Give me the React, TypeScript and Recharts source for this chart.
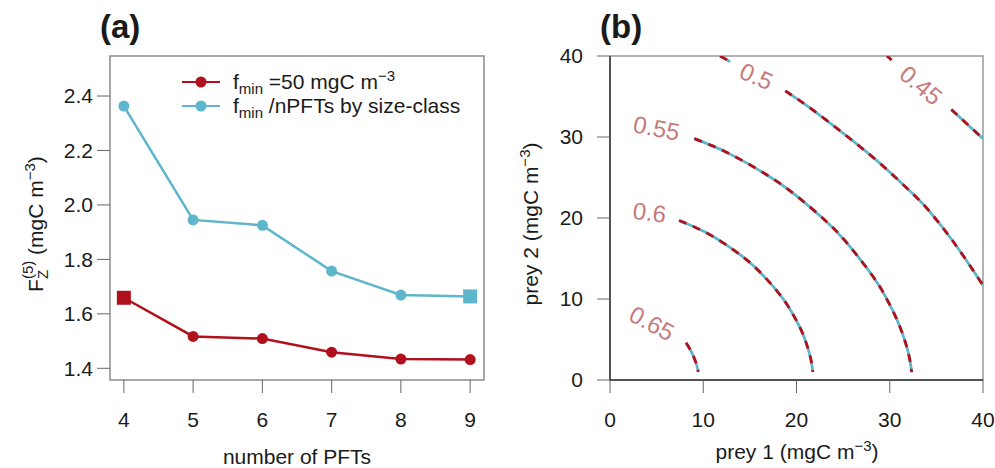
import React from "react";
import { LineChart, Line, XAxis, YAxis, ReferenceArea, ReferenceDot } from "recharts";

const RED = "#b0111c";
const BLUE = "#5db6cb";
const LABEL_RED = "#c57b7b";
const INK = "#1a1a1a";
const FONT = "'Liberation Sans', Arial, Helvetica, sans-serif";

// (a) grazing threshold vs number of PFTs
const nPFTs = [4, 5, 6, 7, 8, 9];
const fminFixed = [1.659, 1.517, 1.509, 1.459, 1.434, 1.432];
const fminBySize = [2.363, 1.945, 1.925, 1.757, 1.669, 1.664];
const fTicks = [1.4, 1.6, 1.8, 2.0, 2.2, 2.4];

// (b) contour segments in prey1/prey2 space (gaps are where labels sit)
const preyTicks = [0, 10, 20, 30, 40];
const c065: [number, number][] = [
  [8.15, 4.6], [8.55, 3.86], [8.9, 3.06], [9.15, 2.35], [9.3, 1.82], [9.47, 1.0],
];
const c060: [number, number][] = [
  [7.4, 19.7], [10.3, 18.2], [13.2, 16.1], [15.2, 14.3], [16.8, 12.45], [18.0, 10.85],
  [19.0, 9.3], [19.7, 7.95], [20.3, 6.65], [20.8, 5.35], [21.2, 4.0], [21.55, 2.5], [21.75, 1.0],
];
const c055: [number, number][] = [
  [9.04, 29.8], [11.0, 28.9], [13.2, 27.7], [16.8, 25.34], [20.0, 22.74], [23.0, 19.78],
  [25.4, 16.93], [28.2, 12.78], [29.5, 10.38], [30.38, 8.43], [31.2, 6.24], [31.8, 4.17],
  [32.15, 2.5], [32.35, 0.97],
];
const c050a: [number, number][] = [[11.8, 40], [12.9, 39.3]];
const c050b: [number, number][] = [
  [18.8, 35.7], [21.8, 33.3], [25.4, 30.1], [29.0, 26.7], [32.5, 22.95],
  [34.2, 20.9], [36.8, 17.1], [40, 11.7],
];
const c045a: [number, number][] = [[29.7, 40], [30.2, 39.5]];
const c045b: [number, number][] = [[36.6, 33.4], [40, 29.8]];
const contourLabels = [
  { text: "0.5", x: 15.7, y: 37.5, angle: 24 },
  { text: "0.45", x: 33.35, y: 36.4, angle: 40 },
  { text: "0.55", x: 5.0, y: 31.1, angle: 11 },
  { text: "0.6", x: 4.24, y: 20.7, angle: 7 },
  { text: "0.65", x: 4.5, y: 7.0, angle: 28 },
];

const fData = nPFTs.map((n, i) => ({ n, fixed: fminFixed[i], bySize: fminBySize[i] }));
const segments = [c065, c060, c055, c050a, c050b, c045a, c045b].map((seg) =>
  seg.map(([x, y]) => ({ x, y }))
);

const tickStyle = { fontSize: 21, fill: INK, fontFamily: FONT };

const marker = (color: string, squareAt: number) => (props: any) => {
  const { cx, cy, index } = props;
  if (cx == null || cy == null) return <g key={index} />;
  if (index === squareAt)
    return <rect key={index} x={cx - 7} y={cy - 7} width={14} height={14} fill={color} />;
  return <circle key={index} cx={cx} cy={cy} r={5.5} fill={color} />;
};

const contourText = (text: string, angle: number) => (props: any) => (
  <text
    x={props.cx}
    y={props.cy}
    textAnchor="middle"
    dominantBaseline="central"
    transform={`rotate(${angle} ${props.cx} ${props.cy})`}
    fontSize={24}
    fontFamily={FONT}
    fill={LABEL_RED}
  >
    {text}
  </text>
);

export default function App() {
  return (
    <div style={{ position: "absolute", left: 0, top: 0, width: 995, height: 468, background: "#fff" }}>
      <div style={{ position: "absolute", left: 0, top: 0 }}>
        <LineChart width={500} height={468} data={fData} margin={{ top: 56, right: 16, bottom: 0, left: 0 }}>
          <ReferenceArea x1={3.8} x2={9.2} y1={1.357} y2={2.547} fill="none" stroke="#8c8c8c" strokeWidth={1.5} ifOverflow="visible" />
          <XAxis
            dataKey="n"
            type="number"
            domain={[3.8, 9.2]}
            ticks={nPFTs}
            allowDataOverflow
            height={88}
            axisLine={false}
            tickSize={13}
            tickMargin={19}
            tickLine={{ stroke: "#666" }}
            tick={tickStyle}
          />
          <YAxis
            type="number"
            domain={[1.357, 2.547]}
            ticks={fTicks}
            allowDataOverflow
            width={110}
            axisLine={false}
            tickSize={13}
            tickMargin={4}
            tickLine={{ stroke: "#666" }}
            tick={tickStyle}
            tickFormatter={(v: number) => v.toFixed(1)}
          />
          <Line dataKey="bySize" stroke={BLUE} strokeWidth={2.5} dot={marker(BLUE, 5)} activeDot={false} isAnimationActive={false} />
          <Line dataKey="fixed" stroke={RED} strokeWidth={2.5} dot={marker(RED, 0)} activeDot={false} isAnimationActive={false} />
        </LineChart>
      </div>

      <div style={{ position: "absolute", left: 500, top: 0 }}>
        <LineChart width={495} height={468} margin={{ top: 56, right: 12, bottom: 0, left: 0 }}>
          <ReferenceArea x1={0} x2={40} y1={0} y2={40} fill="none" stroke="#999" strokeWidth={1.5} ifOverflow="visible" />
          <XAxis
            dataKey="x"
            type="number"
            domain={[0, 40]}
            ticks={preyTicks}
            allowDataOverflow
            height={88}
            axisLine={{ stroke: "#333", strokeWidth: 1.5 }}
            tickSize={13}
            tickMargin={19}
            tickLine={{ stroke: "#666" }}
            tick={tickStyle}
          />
          <YAxis
            type="number"
            domain={[0, 40]}
            ticks={preyTicks}
            allowDataOverflow
            width={110}
            axisLine={{ stroke: "#333", strokeWidth: 1.5 }}
            tickSize={13}
            tickMargin={14}
            tickLine={{ stroke: "#666" }}
            tick={tickStyle}
          />
          {segments.map((seg, i) => (
            <Line key={`b${i}`} data={seg} dataKey="y" type="natural" stroke={BLUE} strokeWidth={2.8} dot={false} activeDot={false} isAnimationActive={false} />
          ))}
          {segments.map((seg, i) => (
            <Line key={`r${i}`} data={seg} dataKey="y" type="natural" stroke={RED} strokeWidth={2.8} strokeDasharray="8 7" dot={false} activeDot={false} isAnimationActive={false} />
          ))}
          {contourLabels.map((l) => (
            <ReferenceDot key={l.text} x={l.x} y={l.y} r={0} ifOverflow="visible" shape={contourText(l.text, l.angle)} />
          ))}
        </LineChart>
      </div>

      <svg width={995} height={468} style={{ position: "absolute", left: 0, top: 0, pointerEvents: "none" }} fontFamily={FONT} fill={INK}>
        <text x={100} y={38} fontSize={33} fontWeight="bold">(a)</text>
        <text x={600} y={38} fontSize={33} fontWeight="bold">(b)</text>

        {/* legend */}
        <line x1={182} x2={220} y1={82} y2={82} stroke={RED} strokeWidth={2} />
        <circle cx={201} cy={82} r={5.5} fill={RED} />
        <line x1={182} x2={220} y1={106} y2={106} stroke={BLUE} strokeWidth={2} />
        <circle cx={201} cy={106} r={5.5} fill={BLUE} />
        <text x={233} y={89} fontSize={21}>
          f<tspan fontSize={15} dy={5}>min</tspan>
          <tspan dy={-5}> =50 mgC m</tspan>
          <tspan fontSize={15} dy={-8}>−3</tspan>
        </text>
        <text x={233} y={113} fontSize={21}>
          f<tspan fontSize={15} dy={5}>min</tspan>
          <tspan dy={-5}> /nPFTs by size-class</tspan>
        </text>

        {/* axis titles */}
        <text x={297} y={464} fontSize={21} textAnchor="middle">number of PFTs</text>
        <text x={797} y={459} fontSize={21} textAnchor="middle">
          prey 1 (mgC m<tspan fontSize={15} dy={-8}>−3</tspan><tspan dy={8}>)</tspan>
        </text>
        <text transform="translate(43,224) rotate(-90)" fontSize={21} textAnchor="middle">
          F<tspan fontSize={15} dy={5}>Z</tspan>
          <tspan fontSize={15} dx={-9.2} dy={-15}>(5)</tspan>
          <tspan dy={10}> (mgC m</tspan>
          <tspan fontSize={15} dy={-8}>−3</tspan>
          <tspan dy={8}>)</tspan>
        </text>
        <text transform="translate(538,224) rotate(-90)" fontSize={21} textAnchor="middle">
          prey 2 (mgC m<tspan fontSize={15} dy={-8}>−3</tspan><tspan dy={8}>)</tspan>
        </text>
      </svg>
    </div>
  );
}
